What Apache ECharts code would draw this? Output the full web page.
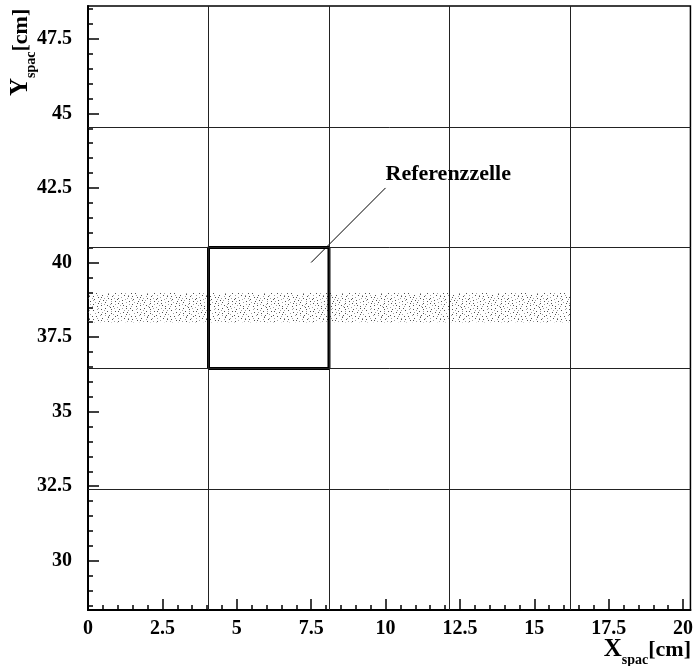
<!DOCTYPE html>
<html>
<head>
<meta charset="utf-8">
<script src="https://cdn.jsdelivr.net/npm/echarts@6/dist/echarts.min.js"></script>
<style>
  html, body { margin: 0; padding: 0; background: #fff; }
  #chart { width: 696px; height: 666px; }
</style>
</head>
<body>
<div id="chart"></div>
<script>
// Axis extents (cm)
const xRange = [0, 20.25];
const yRange = [28.35, 48.6];

// Tick positions and labels
const xMajorTicks = [0, 2.5, 5, 7.5, 10, 12.5, 15, 17.5, 20];
const xMinorTicks = [0.5, 1, 1.5, 2, 3, 3.5, 4, 4.5, 5.5, 6, 6.5, 7, 8, 8.5, 9, 9.5,
  10.5, 11, 11.5, 12, 13, 13.5, 14, 14.5, 15.5, 16, 16.5, 17, 18, 18.5, 19, 19.5];
const yMajorTicks = [30, 32.5, 35, 37.5, 40, 42.5, 45, 47.5];
const yMinorTicks = [28.5, 29, 29.5, 30.5, 31, 31.5, 32, 33, 33.5, 34, 34.5, 35.5, 36,
  36.5, 37, 38, 38.5, 39, 39.5, 40.5, 41, 41.5, 42, 43, 43.5, 44, 44.5, 45.5, 46, 46.5,
  47, 48, 48.5];

// Cell boundaries of the chamber layout
const cellLinesX = [4.05, 8.1, 12.15, 16.2];
const cellLinesY = [32.4, 36.45, 40.5, 44.55];

// Reference cell
const refCellX = [4.05, 8.1];
const refCellY = [36.45, 40.5];

// Region covered by the recorded hits
const hitBandX = [0, 16.2];
const hitBandY = [38.0, 38.98];

// Annotation
const noteText = 'Referenzzelle';
const noteAnchor = [10.0, 42.95];
const notePointer = [[7.5, 40.0], [10.0, 42.5]];

// Speckle texture used to fill the hit band
const speckleRows = [
  '#.......+.......#.....+..........#.....',
  '.....#.........+.........#..+..........',
  '..+.........#........#...........+...#.',
  '.........+.......+.........#...........',
  '.#...#..............#..+.........#.....',
  '............+..#..........+.....+....+.',
  '...+..#................#.....#.........',
  '.........#....+....#...........+...#...',
  '+...............................#......',
  '.....+...#...#......+......#........+..',
  '..#................+...#.........#.....',
  '.......+...+...#..........+............',
  '.#...........................#...+...#.',
  '......#...#.........#...+..............',
  '...+.............+.........#.....#.....',
  '.........#..+..........#...........+...',
  '#.....................+....+...#.......',
  '....#...+.....#...#...........+......#.',
  '..............................#........',
  '.+.....#...+.......+....#..........+...',
  '...........#...#.............+....#....',
  '....+...............#..#...............',
  '.#........+...+...........+...#.....+..'
];

function makeSpeckle() {
  const c = document.createElement('canvas');
  c.width = speckleRows[0].length;
  c.height = speckleRows.length;
  const g = c.getContext('2d');
  speckleRows.forEach((row, j) => {
    for (let i = 0; i < row.length; i++) {
      const ch = row[i];
      if (ch === '.') continue;
      g.fillStyle = ch === '#' ? 'rgba(50,50,50,0.85)' : 'rgba(90,90,90,0.55)';
      g.fillRect(i, j, 1, 1);
    }
  });
  return c;
}
const speckle = { image: makeSpeckle(), repeat: 'repeat' };

const FONT = 'Liberation Serif';
const labelStyle = { color: '#000', fontFamily: FONT, fontWeight: 'bold', fontSize: 20 };
const tickLine = { color: '#000', width: 1.5 };

const titleRich = {
  a: { fontFamily: FONT, fontWeight: 'bold', fontSize: 25, color: '#000', verticalAlign: 'middle', lineHeight: 34 },
  b: { fontFamily: FONT, fontWeight: 'bold', fontSize: 14, color: '#000', verticalAlign: 'bottom', lineHeight: 34 },
  c: { fontFamily: FONT, fontWeight: 'bold', fontSize: 22, color: '#000', verticalAlign: 'middle', lineHeight: 34 }
};

const chart = echarts.init(document.getElementById('chart'), null, { renderer: 'canvas' });

chart.setOption({
  animation: false,
  backgroundColor: '#fff',
  grid: {
    left: 88, top: 6, width: 604, height: 604,
    show: true, borderColor: '#000', borderWidth: 1.5, backgroundColor: 'transparent'
  },
  xAxis: [
    {
      type: 'value', min: xRange[0], max: xRange[1], position: 'bottom',
      axisLine: { show: true, onZero: false, lineStyle: { color: '#000', width: 2 } },
      axisTick: { show: true, inside: true, length: 11, lineStyle: tickLine, customValues: xMajorTicks },
      axisLabel: Object.assign({ customValues: xMajorTicks, margin: 9, showMinLabel: true, showMaxLabel: true }, labelStyle),
      splitLine: { show: false }
    },
    {
      type: 'value', min: xRange[0], max: xRange[1], position: 'bottom',
      axisLine: { show: false },
      axisTick: { show: true, inside: true, length: 5, lineStyle: tickLine, customValues: xMinorTicks },
      axisLabel: { show: false },
      splitLine: { show: false }
    }
  ],
  yAxis: [
    {
      type: 'value', min: yRange[0], max: yRange[1], position: 'left',
      axisLine: { show: true, onZero: false, lineStyle: { color: '#000', width: 2 } },
      axisTick: { show: true, inside: true, length: 11, lineStyle: tickLine, customValues: yMajorTicks },
      axisLabel: Object.assign({ customValues: yMajorTicks, margin: 16 }, labelStyle),
      splitLine: { show: false }
    },
    {
      type: 'value', min: yRange[0], max: yRange[1], position: 'left',
      axisLine: { show: false },
      axisTick: { show: true, inside: true, length: 5, lineStyle: tickLine, customValues: yMinorTicks },
      axisLabel: { show: false },
      splitLine: { show: false }
    }
  ],
  series: [
    {
      // hit band
      type: 'custom',
      silent: true,
      z: 1,
      encode: { x: [0, 2], y: [1, 3] },
      data: [[hitBandX[0], hitBandY[0], hitBandX[1], hitBandY[1]]],
      renderItem: function (params, api) {
        const p0 = api.coord([api.value(0), api.value(3)]);
        const p1 = api.coord([api.value(2), api.value(1)]);
        return {
          type: 'rect',
          shape: { x: p0[0], y: p0[1], width: p1[0] - p0[0], height: p1[1] - p0[1] },
          style: { fill: speckle }
        };
      }
    },
    {
      // cell boundaries
      type: 'line',
      silent: true,
      z: 2,
      data: [],
      markLine: {
        silent: true,
        symbol: ['none', 'none'],
        label: { show: false },
        lineStyle: { color: '#222', width: 1, type: 'solid' },
        emphasis: { disabled: true },
        data: cellLinesX.map(v => ({ xAxis: v })).concat(cellLinesY.map(v => ({ yAxis: v })))
      }
    },
    {
      // reference cell outline
      type: 'line',
      silent: true,
      z: 4,
      symbol: 'none',
      lineStyle: { color: '#000', width: 3 },
      data: [
        [refCellX[0], refCellY[0]], [refCellX[1], refCellY[0]],
        [refCellX[1], refCellY[1]], [refCellX[0], refCellY[1]],
        [refCellX[0], refCellY[0]]
      ]
    },
    {
      // pointer line to the reference cell
      type: 'line',
      silent: true,
      z: 4,
      symbol: 'none',
      lineStyle: { color: '#000', width: 1 },
      data: notePointer
    },
    {
      // annotation text
      type: 'scatter',
      silent: true,
      z: 5,
      symbolSize: 0,
      itemStyle: { opacity: 1 },
      data: [noteAnchor],
      label: {
        show: true, position: 'right', distance: 0,
        formatter: noteText,
        color: '#000', fontFamily: FONT, fontWeight: 'bold', fontSize: 22
      }
    }
  ],
  graphic: [
    {
      type: 'text',
      x: 21, y: 96,
      rotation: Math.PI / 2,
      style: {
        text: '{a|Y}{b|spac}{c|[cm]}',
        rich: titleRich,
        textAlign: 'left',
        textVerticalAlign: 'middle'
      }
    },
    {
      type: 'text',
      x: 691, y: 650,
      style: {
        text: '{a|X}{b|spac}{c|[cm]}',
        rich: titleRich,
        textAlign: 'right',
        textVerticalAlign: 'middle'
      }
    }
  ]
});
</script>
</body>
</html>
